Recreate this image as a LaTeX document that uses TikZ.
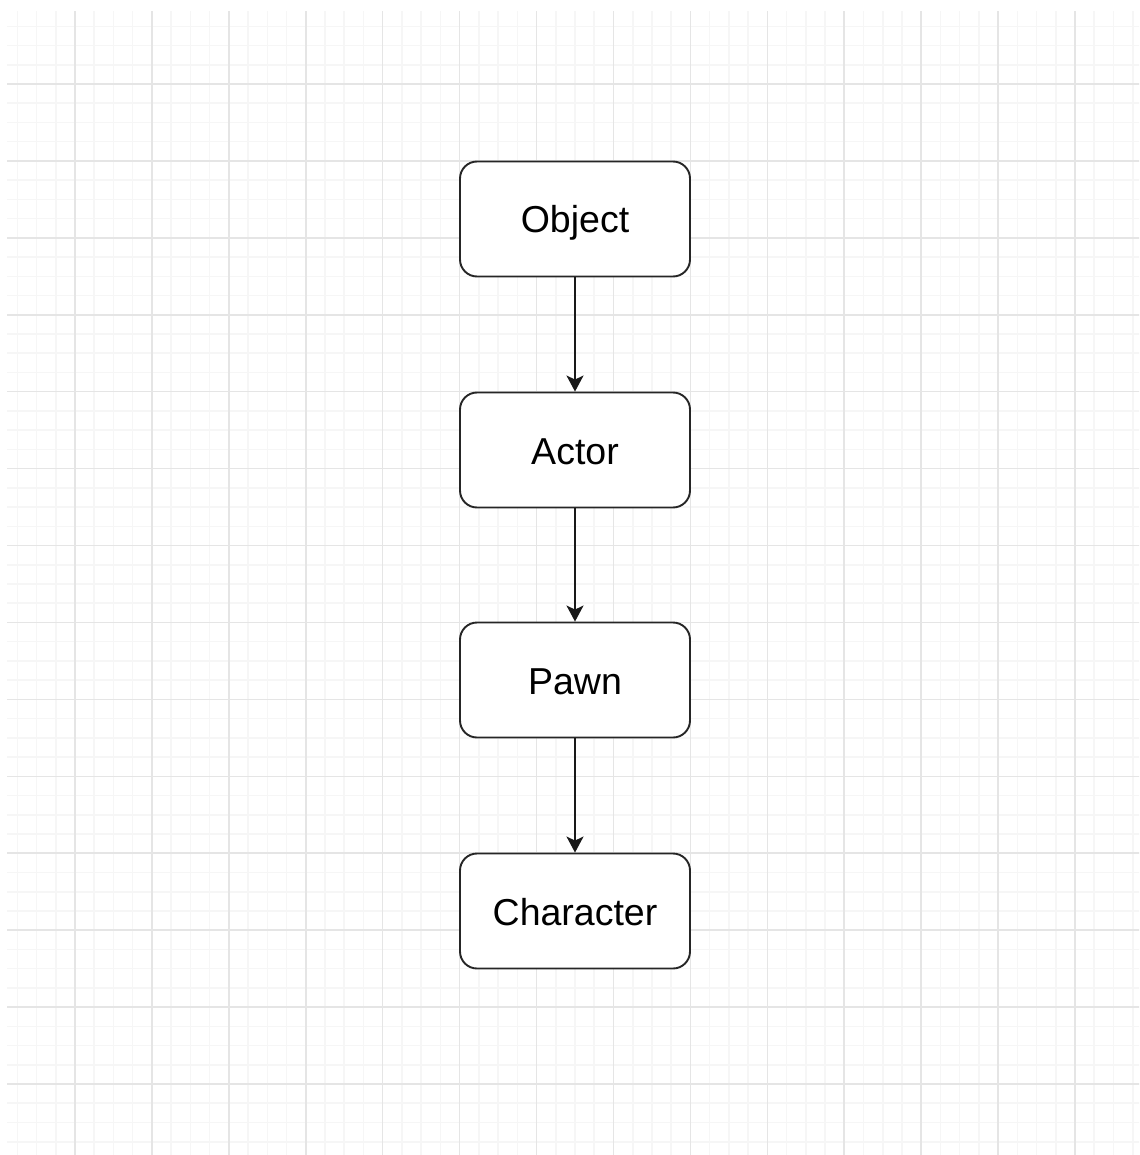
\documentclass[tikz,border=0pt]{standalone}
\usepackage{fontspec}
\setmainfont{Liberation Sans}
\usetikzlibrary{arrows.meta}
\definecolor{gridminor}{RGB}{246,246,246}
\definecolor{gridmajor}{RGB}{229,229,229}
\tikzset{
  minorline/.style={draw=gridminor, line width=1.6pt},
  majorline/.style={draw=gridmajor, line width=1.6pt},
  classbox/.style={draw=black!85, fill=white, rectangle, rounded corners=17pt,
    line width=1.9pt, minimum width=230pt, minimum height=115pt, inner sep=0pt,
    text height=30pt, text depth=2pt,
    font=\fontsize{37.5}{44}\selectfont},
  inherit/.style={draw=black!90, line width=1.9pt,
    -{Stealth[length=16pt, width=17pt, inset=4pt]}}
}
\begin{document}
\begin{tikzpicture}[x=1pt,y=-1pt]
\useasboundingbox (0,0) rectangle (1139,1155);
\begin{scope}
\clip (7,12) rectangle (1139,1155);
\foreach \i in {-4,...,56} {
  \draw[minorline] ({75+\i*19.2308},0) -- ({75+\i*19.2308},1160);
  \draw[minorline] (0,{84+\i*19.2308}) -- (1140,{84+\i*19.2308});
}
\foreach \i in {-1,...,14} {
  \draw[majorline] ({75+\i*76.923},0) -- ({75+\i*76.923},1160);
  \draw[majorline] (0,{84+\i*76.923}) -- (1140,{84+\i*76.923});
}
\end{scope}
\node[classbox] (obj) at (575,219) {Object};
\node[classbox] (act) at (575,450) {Actor};
\node[classbox] (pawn) at (575,680) {Pawn};
\node[classbox] (char) at (575,911) {Character};
\draw[inherit] (obj.south) -- (act.north);
\draw[inherit] (act.south) -- (pawn.north);
\draw[inherit] (pawn.south) -- (char.north);
\end{tikzpicture}
\end{document}
